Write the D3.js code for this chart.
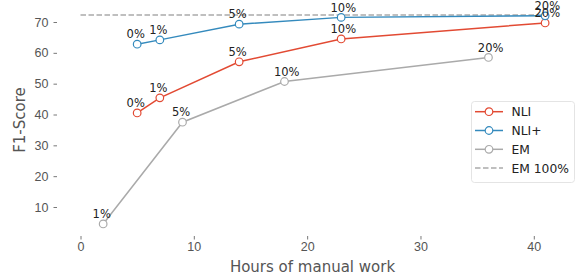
<!DOCTYPE html>
<html>
<head>
<meta charset="utf-8">
<script src="https://cdn.jsdelivr.net/npm/d3@7"></script>
<style>
  body { margin: 0; background: #fff; }
  svg { font-family: "DejaVu Sans", sans-serif; }
</style>
</head>
<body>
<div id="chart"></div>
<script>
// data
var nliHours = [5, 7, 14, 23, 41];
var nliScore = [40.5, 45.4, 57.1, 64.5, 69.7];
var nliPlusHours = [5, 7, 14, 23, 41];
var nliPlusScore = [62.8, 64.2, 69.3, 71.5, 72.0];
var emHours = [2, 9, 18, 36];
var emScore = [4.5, 37.5, 50.7, 58.5];
var nliLabels = ["0%", "1%", "5%", "10%", "20%"];
var nliPlusLabels = ["0%", "1%", "5%", "10%", "20%"];
var emLabels = ["1%", "5%", "10%", "20%"];
var emFull = 72.3;
var xTicks = [0, 10, 20, 30, 40];
var yTicks = [10, 20, 30, 40, 50, 60, 70];

var width = 576, height = 279;

var svg = d3.select("#chart").append("svg")
	.attr("width", width)
	.attr("height", height);

var x = d3.scaleLinear().domain([0, 40]).range([80.5, 533.8]);
var y = d3.scaleLinear().domain([10, 70]).range([207, 22]);

var tickColor = "#555";

// y axis
var yAxis = svg.append("g")
	.attr("transform", "translate(57,0)")
	.call(d3.axisLeft(y).tickValues(yTicks).tickSize(3.5).tickPadding(5).tickFormat(d3.format("d")));
yAxis.select(".domain").remove();
yAxis.selectAll("line").attr("stroke", tickColor).attr("stroke-width", 0.8);
yAxis.selectAll("text").attr("fill", tickColor).style("font-size", "12.5px");

// x axis
var xAxis = svg.append("g")
	.attr("transform", "translate(0,236)")
	.call(d3.axisBottom(x).tickValues(xTicks).tickSize(3.5).tickPadding(3).tickFormat(d3.format("d")));
xAxis.select(".domain").remove();
xAxis.selectAll("line").attr("stroke", tickColor).attr("stroke-width", 0.8);
xAxis.selectAll("text").attr("fill", tickColor).style("font-size", "12.5px");

// axis titles
svg.append("text")
	.attr("x", 312.5)
	.attr("y", 272)
	.attr("text-anchor", "middle")
	.attr("fill", tickColor)
	.style("font-size", "15px")
	.text("Hours of manual work");

svg.append("text")
	.attr("transform", "translate(25,120)rotate(-90)")
	.attr("text-anchor", "middle")
	.attr("fill", tickColor)
	.style("font-size", "15px")
	.text("F1-Score");

// EM 100% line
svg.append("line")
	.attr("x1", x(0))
	.attr("x2", x(41))
	.attr("y1", y(emFull))
	.attr("y2", y(emFull))
	.attr("stroke", "#aaaaaa")
	.attr("stroke-width", 1.5)
	.attr("stroke-dasharray", "5.5,2.5");

var series = [
	{ name: "NLI", hours: nliHours, score: nliScore, labels: nliLabels, color: "#e24a33" },
	{ name: "NLI+", hours: nliPlusHours, score: nliPlusScore, labels: nliPlusLabels, color: "#348abd" },
	{ name: "EM", hours: emHours, score: emScore, labels: emLabels, color: "#aaaaaa" }
];

var line = d3.line()
	.x(function(d) { return x(d[0]); })
	.y(function(d) { return y(d[1]); });

// draw from back to front: EM, NLI, NLI+
[series[2], series[0], series[1]].forEach(function(s) {
	var pts = s.hours.map(function(h, i) { return [h, s.score[i]]; });
	svg.append("path")
		.datum(pts)
		.attr("fill", "none")
		.attr("stroke", s.color)
		.attr("stroke-width", 1.5)
		.attr("d", line);
	svg.selectAll(null)
		.data(pts)
		.enter().append("circle")
		.attr("cx", function(d) { return x(d[0]); })
		.attr("cy", function(d) { return y(d[1]); })
		.attr("r", 3.8)
		.attr("fill", "#fff")
		.attr("stroke", s.color)
		.attr("stroke-width", 1.2);
});

// percentage labels
series.forEach(function(s) {
	svg.selectAll(null)
		.data(s.hours)
		.enter().append("text")
		.attr("x", function(d) { return x(d) - 10.6; })
		.attr("y", function(d, i) { return y(s.score[i]) - 5.8; })
		.attr("fill", "#222")
		.style("font-size", "11.5px")
		.text(function(d, i) { return s.labels[i]; });
});

// legend
var legend = svg.append("g").attr("transform", "translate(471,101)");
legend.append("rect")
	.attr("x", 0.5).attr("y", 0.5)
	.attr("width", 103).attr("height", 81)
	.attr("rx", 3)
	.attr("fill", "#fff")
	.attr("fill-opacity", 0.8)
	.attr("stroke", "#ddd")
	.attr("stroke-width", 0.8);

var legendItems = [
	{ name: "NLI", color: "#e24a33", dash: null, marker: true },
	{ name: "NLI+", color: "#348abd", dash: null, marker: true },
	{ name: "EM", color: "#aaaaaa", dash: null, marker: true },
	{ name: "EM 100%", color: "#aaaaaa", dash: "5.5,2.5", marker: false }
];

var li = legend.selectAll(".item")
	.data(legendItems)
	.enter().append("g")
	.attr("class", "item")
	.attr("transform", function(d, i) { return "translate(0," + (10.7 + i * 18.8) + ")"; });

li.append("line")
	.attr("x1", 4).attr("x2", 32)
	.attr("stroke", function(d) { return d.color; })
	.attr("stroke-width", 1.5)
	.attr("stroke-dasharray", function(d) { return d.dash; });

li.filter(function(d) { return d.marker; })
	.append("circle")
	.attr("cx", 18).attr("r", 3.8)
	.attr("fill", "#fff")
	.attr("stroke", function(d) { return d.color; })
	.attr("stroke-width", 1.2);

li.append("text")
	.attr("x", 40.5)
	.attr("dy", "0.36em")
	.attr("fill", "#222")
	.style("font-size", "12.3px")
	.text(function(d) { return d.name; });
</script>
</body>
</html>
